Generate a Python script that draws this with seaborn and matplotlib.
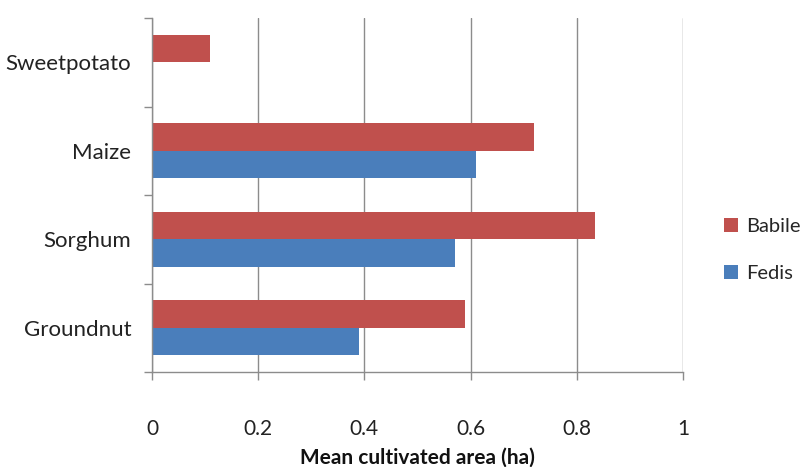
import matplotlib
matplotlib.use("Agg")
import matplotlib.pyplot as plt
import seaborn as sns
import pandas as pd
from matplotlib.patches import Patch

categories = ["Sweetpotato", "Maize", "Sorghum", "Groundnut"]
babile = [0.11, 0.72, 0.835, 0.59]
fedis = [0.0, 0.61, 0.57, 0.39]
series = ["Babile", "Fedis"]
colors = ["#C0504D", "#4A7EBB"]
x_ticks = [0, 0.2, 0.4, 0.6, 0.8, 1.0]
x_ticklabels = ["0", "0.2", "0.4", "0.6", "0.8", "1"]

df = pd.DataFrame({
    "crop": categories * 2,
    "value": babile + fedis,
    "site": [series[0]] * len(categories) + [series[1]] * len(categories),
})

sns.set_style("white")
plt.rcParams["font.family"] = ["Lato", "DejaVu Sans"]

fig = plt.figure(figsize=(8.05, 4.67), dpi=100)
ax = fig.add_axes([152 / 805, 1 - 372 / 467, 531 / 805, 354 / 467])

sns.barplot(data=df, y="crop", x="value", hue="site", order=categories,
            hue_order=series, palette=colors, orient="h", width=0.62,
            saturation=1, linewidth=0, ax=ax, legend=False)

ax.set_xlim(0, 1)
ax.set_ylim(3.5, -0.5)
ax.set_xticks(x_ticks)
ax.set_xticklabels(x_ticklabels, fontsize=15, color="#222222")
ax.tick_params(axis="x", length=6, color="#8c8c8c", width=1, pad=28, direction="out", bottom=True)
ax.set_yticks(range(len(categories)))
ax.set_yticklabels(categories, fontsize=16, color="#222222")
ax.tick_params(axis="y", which="major", length=0, pad=15)
ax.set_yticks([-0.5, 0.5, 1.5, 2.5, 3.5], minor=True)
ax.tick_params(axis="y", which="minor", length=6, color="#8c8c8c", width=1, direction="out", left=True)

ax.xaxis.grid(True, color="#8c8c8c", linewidth=1)
ax.yaxis.grid(False)
ax.set_axisbelow(True)
for s in ["top", "right"]:
    ax.spines[s].set_visible(False)
for s in ["left", "bottom"]:
    ax.spines[s].set_color("#8c8c8c")
    ax.spines[s].set_linewidth(1)

ax.set_ylabel("")
ax.set_xlabel("Mean cultivated area (ha)", fontsize=15, fontweight="bold", labelpad=6, color="#111111")

handles = [Patch(facecolor=c, edgecolor="none") for c in colors]
fig.legend(handles, series, loc="center left", bbox_to_anchor=(706 / 805, 1 - 250 / 467),
           frameon=False, fontsize=14.5, handlelength=0.7, handleheight=0.7,
           handletextpad=0.4, labelspacing=1.5)

fig.savefig("out.png", dpi=100)
